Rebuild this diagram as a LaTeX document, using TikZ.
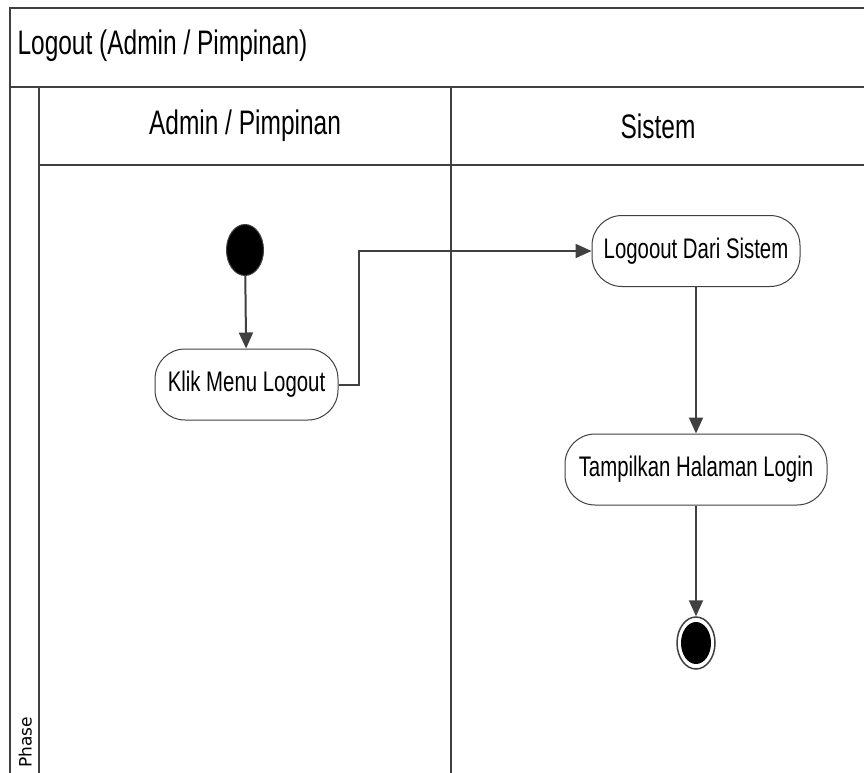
\documentclass[tikz,border=0pt]{standalone}
\usepackage{fontspec}
\setmainfont{Liberation Sans}[FakeStretch=0.72]
\newfontfamily\phasefont{DejaVu Sans}
\usetikzlibrary{arrows.meta,shapes.geometric}
\definecolor{linegray}{HTML}{404040}
\tikzset{
  frameline/.style={draw=linegray, line width=2pt},
  action/.style={draw=linegray, line width=1pt, fill=white, rounded corners=30pt,
    minimum height=71pt, inner xsep=4pt, font=\fontsize{28.3}{32}\selectfont},
  flow/.style={draw=linegray, line width=2pt, -{Triangle[length=16pt, width=14pt]}},
  lanetitle/.style={font=\fontsize{34}{38}\selectfont},
}
\begin{document}
\begin{tikzpicture}[x=1pt, y=-1pt]
  \useasboundingbox (0,0) rectangle (864,773);
  \clip (0,0) rectangle (864,773);
  \fill[white] (0,0) rectangle (864,773);

  % swimlane frame
  \draw[frameline] (10,800) -- (10,8) -- (880,8);
  \draw[frameline] (10,87) -- (880,87);
  \draw[frameline] (39,800) -- (39,87);
  \draw[frameline] (39,165) -- (880,165);
  \draw[frameline] (451,800) -- (451,87);

  % titles
  \node[lanetitle, anchor=west] (title) at (14,46) {Logout (Admin / Pimpinan)};
  \node[lanetitle] (laneA) at (245,126) {Admin / Pimpinan};
  \node[lanetitle] (laneB) at (658,126) {Sistem};
  \node[font=\phasefont\fontsize{17}{20}\selectfont, rotate=90, anchor=base west, inner sep=0pt] (phase) at (31.5,768) {Phase};

  % activity nodes
  \node[draw=linegray, line width=1pt, fill=black, ellipse, minimum width=37pt, minimum height=51pt, inner sep=0pt] (start) at (245,250) {};
  \node[action, minimum width=183pt] (klik) at (246.5,384.5) {Klik Menu Logout};
  \node[action, minimum width=208pt] (logout) at (696,251) {Logoout Dari Sistem};
  \node[action, minimum width=262pt] (tampil) at (696,469.5) {Tampilkan Halaman Login};
  \node[draw=linegray, line width=1.5pt, fill=white, ellipse, minimum width=38pt, minimum height=52pt, inner sep=0pt] (stop) at (696,643) {};
  \node[fill=black, ellipse, minimum width=30pt, minimum height=42pt, inner sep=0pt] (stopdot) at (stop.center) {};

  % flows
  \draw[flow] (start) -- (klik);
  \draw[flow] (klik.east) -- ++(20,0) |- (logout.west);
  \draw[flow] (logout) -- (tampil);
  \draw[flow] (tampil) -- (stop);
\end{tikzpicture}
\end{document}
